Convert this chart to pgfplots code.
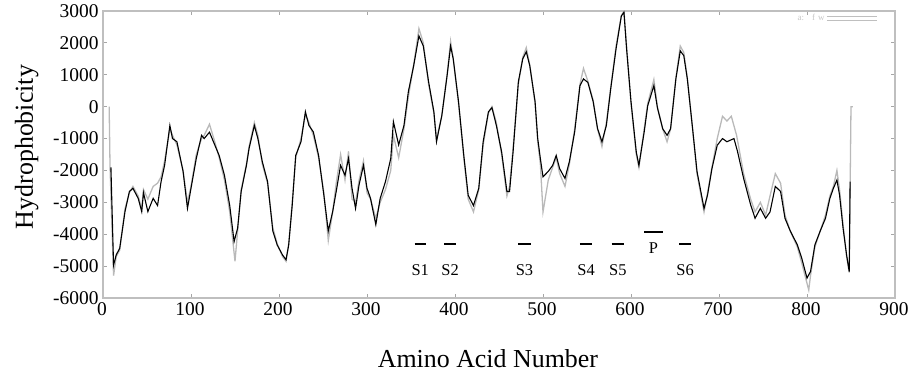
\documentclass[border=0pt]{standalone}
\usepackage{pgfplots}
\pgfplotsset{compat=1.18}
\usepackage{fontspec}
\setmainfont{Liberation Serif}
\pgfplotsset{doubleleg/.style={legend image code/.code={\draw[##1] (0bp,2bp) -- (50bp,2bp); \draw[##1] (0bp,-2bp) -- (50bp,-2bp);}}}
\begin{document}
\begin{tikzpicture}
\begin{axis}[
  at={(0,0)}, anchor=south west,
  scale only axis, width=792bp, height=287bp,
  xmin=0, xmax=900, ymin=-6000, ymax=3000,
  xtick={0,100,...,900}, ytick={-6000,-5000,...,3000},
  /pgf/number format/assume math mode=true,
  /pgf/number format/set thousands separator={},
  tick label style={font=\fontsize{19.5}{21}\selectfont},
  xticklabel style={yshift=-1bp, xshift=-1bp},
  yticklabel style={xshift=-1bp},
  tick align=inside, major tick length=4bp,
  tick style={gray!70, line width=0.8pt},
  axis line style={gray!50, line width=1.3pt},
  xlabel={Amino Acid Number}, ylabel={Hydrophobicity},
  label style={font=\fontsize{26}{28}\selectfont},
  xlabel style={at={(axis description cs:0.486,0)}, anchor=base, yshift=-69bp},
  ylabel style={at={(axis description cs:-0.0884,0.526)}, anchor=base},
  legend style={at={(0.978,0.995)}, anchor=north east, draw=none, fill=none,
    font=\fontsize{9}{9}\selectfont, text=gray!45, inner sep=0pt},
  legend cell align=left, legend plot pos=right,
]
\addplot[gray!55, line width=1.3pt, forget plot] coordinates {
(7,0) (8,-1900) (12,-5300) (15,-4700) (19,-4500) (25,-3200) (30,-2700) (34,-2500)
(40,-2800) (44,-3200) (46,-2600) (51,-2900) (57,-2500) (62,-2400) (66,-2200) (70,-1700)
(76,-700) (79,-900) (84,-1200) (91,-2000) (96,-3000) (100,-2500) (106,-1500) (112,-1000)
(115,-900) (121,-550) (127,-1100) (132,-1600) (138,-2300) (144,-3300) (150,-4850) (153,-3900)
(157,-2600) (163,-1800) (166,-1250) (172,-500) (176,-900) (181,-1800) (187,-2400) (193,-3800)
(198,-4300) (204,-4700) (208,-4850) (211,-4300) (215,-3000) (219,-1600) (225,-1000) (230,-250)
(234,-500) (239,-900) (245,-1600) (251,-2700) (256,-4200) (261,-3300) (265,-2400) (270,-1500)
(275,-2300) (279,-1400) (283,-2900) (287,-3000) (291,-2300) (296,-1700) (300,-2700) (304,-2900)
(310,-3500) (315,-3000) (321,-2600) (327,-2000) (330,-900) (336,-1600) (342,-700) (347,300)
(353,1300) (359,2450) (364,2000) (370,700) (376,-200) (379,-1000) (385,-300) (391,1000)
(395,2050) (398,1500) (404,100) (410,-1600) (415,-2900) (421,-3300) (427,-2600) (432,-1200)
(438,-200) (442,0) (447,-500) (453,-1500) (459,-2800) (462,-2500) (466,-1300) (472,700)
(477,1550) (481,1850) (485,1300) (491,100) (494,-1100) (497,-1800) (500,-3300) (506,-2300)
(511,-1900) (515,-1600) (519,-2100) (525,-2500) (530,-1800) (536,-700) (542,700) (546,1200)
(551,800) (557,200) (562,-700) (567,-1250) (572,-500) (577,600) (583,1900) (589,2850)
(592,3000) (595,1900) (600,100) (606,-1500) (609,-1900) (615,-700) (619,100) (626,850)
(630,0) (636,-700) (641,-1100) (645,-700) (651,900) (656,1900) (660,1700) (664,900)
(670,-700) (675,-2100) (683,-3300) (687,-2700) (692,-1900) (698,-1000) (704,-300) (709,-450)
(714,-300) (720,-900) (728,-2100) (736,-2900) (741,-3300) (747,-3000) (753,-3400) (758,-2800)
(764,-2100) (770,-2400) (775,-3400) (781,-3900) (789,-4400) (794,-4900) (802,-5750) (804,-5300)
(809,-4400) (815,-3900) (821,-3400) (826,-2800) (830,-2500) (834,-2000) (837,-2600) (841,-3700)
(845,-4700) (848,-5200) (850,0) (852,0)
};
\addplot[black, line width=1.1pt, forget plot] coordinates {
(9,-1900) (12,-4970) (15,-4650) (19,-4440) (25,-3290) (30,-2660) (34,-2560) (40,-2875)
(44,-3290) (46,-2700) (51,-3290) (57,-2875) (62,-3100) (66,-2350) (70,-1840) (76,-590)
(79,-1000) (84,-1100) (91,-2030) (96,-3190) (100,-2560) (106,-1625) (112,-900) (115,-1000)
(121,-800) (127,-1200) (132,-1530) (138,-2150) (144,-3100) (149,-4230) (153,-3810) (157,-2660)
(163,-1840) (166,-1310) (172,-590) (176,-1000) (181,-1720) (187,-2350) (193,-3900) (198,-4340)
(204,-4650) (208,-4800) (211,-4340) (215,-3100) (219,-1530) (225,-1100) (230,-160) (234,-590)
(239,-790) (245,-1530) (251,-2780) (256,-3900) (261,-3290) (265,-2660) (270,-1840) (275,-2150)
(279,-1625) (283,-2560) (287,-3190) (291,-2450) (296,-1840) (300,-2560) (304,-2875) (310,-3700)
(315,-2875) (321,-2350) (327,-1625) (330,-470) (336,-1200) (342,-590) (347,470) (353,1280)
(359,2220) (364,1900) (370,780) (376,-160) (379,-1100) (385,-280) (391,970) (395,1900)
(398,1500) (404,160) (410,-1530) (415,-2780) (421,-3100) (427,-2560) (432,-1100) (438,-160)
(442,-30) (447,-590) (453,-1420) (459,-2660) (462,-2660) (466,-1420) (472,780) (477,1500)
(481,1720) (485,1280) (491,160) (494,-1000) (497,-1625) (500,-2200) (506,-2030) (511,-1840)
(515,-1530) (519,-1950) (525,-2250) (530,-1720) (536,-790) (542,660) (546,870) (551,760)
(557,160) (562,-690) (567,-1100) (572,-590) (577,570) (583,1810) (589,2840) (592,2960)
(595,1810) (600,160) (606,-1420) (609,-1840) (615,-790) (619,30) (626,660) (630,-30)
(636,-690) (641,-900) (645,-690) (651,870) (656,1750) (660,1600) (664,875) (670,-690)
(675,-2030) (683,-3190) (687,-2770) (692,-1940) (698,-1210) (704,-1000) (709,-1100) (717,-1000)
(721,-1400) (728,-2250) (736,-3080) (741,-3500) (747,-3190) (753,-3500) (758,-3300) (764,-2500)
(770,-2660) (775,-3500) (781,-3900) (789,-4330) (794,-4750) (800,-5375) (804,-5170) (809,-4330)
(815,-3900) (821,-3500) (826,-2875) (830,-2560) (834,-2300) (837,-2770) (841,-3810) (845,-4650)
(848,-5170) (849,-2350)
};
\addlegendimage{gray!50, line width=0.8pt, doubleleg}
\addlegendentry{a:\hspace{8bp}f\hspace{3bp}w}
% segment annotations
\draw[black, line width=1.8pt] (axis cs:354,-4310) -- (axis cs:367,-4310);
\draw[black, line width=1.8pt] (axis cs:388,-4310) -- (axis cs:401,-4310);
\draw[black, line width=1.8pt] (axis cs:472,-4310) -- (axis cs:486,-4310);
\draw[black, line width=1.8pt] (axis cs:542,-4310) -- (axis cs:556,-4310);
\draw[black, line width=1.8pt] (axis cs:578,-4310) -- (axis cs:592,-4310);
\draw[black, line width=1.8pt] (axis cs:615,-3940) -- (axis cs:636,-3940);
\draw[black, line width=1.8pt] (axis cs:655,-4310) -- (axis cs:668,-4310);
\begin{scope}[every node/.style={font=\fontsize{16.5}{18}\selectfont, inner sep=0pt}]
\node at (axis cs:360.5,-5125) {S1};
\node at (axis cs:394.5,-5125) {S2};
\node at (axis cs:479,-5125) {S3};
\node at (axis cs:549,-5125) {S4};
\node at (axis cs:585,-5125) {S5};
\node at (axis cs:625.5,-4440) {P};
\node at (axis cs:661.5,-5125) {S6};
\end{scope}
\end{axis}
\pgfresetboundingbox
\useasboundingbox (-103bp,-78bp) rectangle (806bp,298bp);
\end{tikzpicture}
\end{document}
